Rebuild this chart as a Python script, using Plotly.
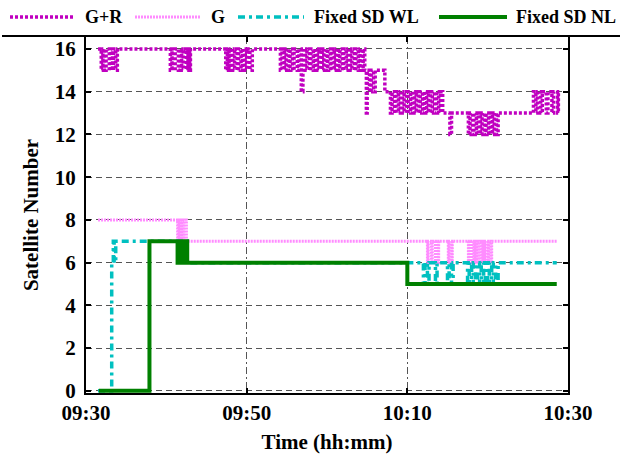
import plotly.graph_objects as go

# Time axis: minutes after 09:30
TICK_MIN = [0, 20, 40, 60]
TICK_TEXT = ["09:30", "09:50", "10:10", "10:30"]
Y_TICKS = [0, 2, 4, 6, 8, 10, 12, 14, 16]

SERIES_NAMES = ["G+R", "G", "Fixed SD WL", "Fixed SD NL"]

# G+R satellite count (step changes: minute, count)
GR_T = [1.5, 1.9, 2.1, 2.3, 2.5, 2.9, 3.1, 3.3, 3.4, 3.7, 3.9,
        10.5, 10.7, 10.9, 11.1, 11.5, 11.7, 11.9, 12.1, 12.5, 12.7, 12.9, 13.0,
        17.4, 17.6, 17.8, 18.0, 18.3, 18.5, 18.8, 19.0, 19.3, 19.5, 19.8, 20.0, 20.4, 20.7,
        24.2, 24.4, 24.7, 24.9, 25.2, 25.4, 25.7, 25.9, 26.3, 26.5, 26.8, 27.0,
        27.3, 27.5, 27.8, 28.0, 28.3, 28.5, 28.8, 29.0, 29.4, 29.6, 29.9, 30.1,
        30.4, 30.6, 30.9, 31.1, 31.4, 31.6, 31.9, 32.1, 32.4, 32.6, 32.9, 33.1,
        33.4, 33.6, 33.9, 34.1, 34.3, 34.5,
        34.7, 34.9, 35.0, 35.3, 35.5, 35.8, 36.0, 37.2,
        37.9, 38.1, 38.4, 38.6, 38.9, 39.1, 39.4, 39.6, 39.9, 40.1, 40.4, 40.6,
        40.9, 41.1, 41.4, 41.6, 41.9, 42.1, 42.4, 42.6, 42.9, 43.1, 43.4, 43.6,
        43.9, 44.1, 44.4, 44.7,
        45.3, 45.5,
        47.6, 47.8, 48.1, 48.3, 48.6, 48.8, 49.1, 49.3, 49.6, 49.8, 50.1, 50.3,
        50.6, 50.8, 51.1, 51.3,
        55.7, 56.0, 56.2, 56.6, 56.8, 57.3, 57.5, 58.0, 58.2, 58.7, 58.8]
GR_V = [16, 15, 16, 15, 16, 15, 16, 15, 16, 15, 16,
        15, 16, 15, 16, 15, 16, 15, 16, 15, 16, 15, 16,
        15, 16, 15, 16, 15, 16, 15, 16, 15, 16, 15, 16, 15, 16,
        15, 16, 15, 16, 15, 16, 15, 16, 15, 16, 14, 16,
        15, 16, 15, 16, 15, 16, 15, 16, 15, 16, 15, 16,
        15, 16, 15, 16, 15, 16, 15, 16, 15, 16, 15, 16,
        15, 16, 15, 16, 15, 16,
        15, 13, 15, 14, 15, 14, 15, 14,
        13, 14, 13, 14, 13, 14, 13, 14, 13, 14, 13, 14,
        13, 14, 13, 14, 13, 14, 13, 14, 13, 14, 13, 14,
        13, 14, 13, 13,
        12, 13,
        12, 13, 12, 13, 12, 13, 12, 13, 12, 13, 12, 13,
        12, 13, 12, 13,
        14, 13, 14, 13, 14, 13, 14, 13, 14, 13, 14]

# G satellite count
G_T = [1.5, 11.4, 11.5, 11.6, 11.8, 11.9, 12.1, 12.2, 12.4, 12.5,
       42.5, 42.6, 43.0, 43.1, 43.5, 43.6, 43.8, 43.9,
       45.1, 45.2, 45.5, 45.6,
       47.6, 47.7, 47.9, 48.0, 48.3, 48.4, 48.6, 48.7, 48.9, 49.0,
       49.3, 49.4, 49.6, 49.7, 50.0, 50.1, 50.4, 50.5, 50.7, 58.6]
G_V = [8, 7, 8, 7, 8, 7, 8, 7, 8, 7,
       6, 7, 6, 7, 6, 7, 6, 7,
       6, 7, 6, 7,
       6, 7, 6, 7, 6, 7, 6, 7, 6, 7,
       6, 7, 6, 7, 6, 7, 6, 7, 7, 7]

# Fixed SD, wide-lane satellite count
WL_T = [1.5, 3.2, 3.4, 3.5, 3.7, 12.6,
        42.0, 42.2, 42.5, 42.7, 43.5, 43.7,
        45.0, 45.2, 45.5, 45.7,
        47.5, 47.7, 48.0, 48.2, 48.5, 48.7, 49.0, 49.2, 49.5, 49.7,
        50.0, 50.2, 50.5, 50.7, 51.0, 51.3, 58.6]
WL_V = [0, 6, 7, 6, 7, 6,
        5, 6, 5, 6, 5, 6,
        5, 6, 5, 6,
        5, 6, 5, 6, 5, 6, 5, 6, 5, 6,
        5, 6, 5, 6, 5, 6, 6]

# Fixed SD, narrow-lane satellite count
NL_T = [1.6, 7.9, 11.4, 11.5, 11.6, 11.7, 11.8, 11.9, 12.0, 12.1, 12.2,
        12.3, 12.4, 12.5, 12.6, 12.7, 40.0, 58.6]
NL_V = [0, 7, 6, 7, 6, 7, 6, 7, 6, 7, 6,
        7, 6, 7, 6, 6, 5, 5]

COLORS = ["#c000c0", "#ff8cff", "#00c0c0", "#008000"]
DASHES = ["3px,2px", "2px,1px", "7px,4px,3px,4px", "solid"]
WIDTHS = [3.5, 3, 3.5, 4]

SERIF = "Liberation Serif, Times New Roman, serif"

fig = go.Figure()
data = [(GR_T, GR_V), (G_T, G_V), (WL_T, WL_V), (NL_T, NL_V)]
for (t, v), name, c, d, w in zip(data, SERIES_NAMES, COLORS, DASHES, WIDTHS):
    fig.add_trace(go.Scatter(
        x=t, y=v, name=name, mode="lines", line_shape="hv",
        line=dict(color=c, dash=d, width=w), showlegend=False,
    ))

# figure geometry (pixels)
W, H = 620, 454
ML, MR, MT, MB = 86, 52, 37, 61
PW, PH = W - ML - MR, H - MT - MB


def px_x(px):
    return (px - ML) / PW


def px_y(py):
    return (H - MB - py) / PH


shapes = []
annotations = []
# legend row across the top
leg_line_x = [(10, 75), (135, 201), (238, 304), (439, 507)]
leg_text_x = [83, 209, 312, 514]
LEG_Y = 17
for name, c, d, w, (a, b), tx in zip(SERIES_NAMES, COLORS, DASHES, WIDTHS, leg_line_x, leg_text_x):
    shapes.append(dict(type="line", xref="paper", yref="paper",
                       x0=px_x(a), x1=px_x(b), y0=px_y(LEG_Y), y1=px_y(LEG_Y),
                       line=dict(color=c, dash=d, width=w)))
    annotations.append(dict(text=name, xref="paper", yref="paper",
                            x=px_x(tx), y=px_y(LEG_Y), xanchor="left", yanchor="middle",
                            showarrow=False,
                            font=dict(family=SERIF, size=18, color="black", weight="bold")))
# rule under the legend spanning the full width
shapes.append(dict(type="line", xref="paper", yref="paper",
                   x0=px_x(2), x1=px_x(620), y0=px_y(36), y1=px_y(36),
                   line=dict(color="black", width=2)))

fig.update_layout(
    width=W, height=H,
    margin=dict(l=ML, r=MR, t=MT, b=MB, pad=0, autoexpand=False),
    paper_bgcolor="white", plot_bgcolor="white",
    shapes=shapes, annotations=annotations,
    font=dict(family=SERIF, color="black"),
)

axis_common = dict(
    showline=True, linecolor="black", linewidth=2, mirror="ticks",
    ticks="inside", ticklen=5, tickwidth=1.5, tickcolor="black",
    zeroline=False, showgrid=True, gridcolor="#555555", gridwidth=1,
    automargin=False,
    tickfont=dict(family=SERIF, size=21, color="black", weight="bold"),
)
fig.update_xaxes(
    range=[0, 60], tickvals=TICK_MIN, ticktext=TICK_TEXT,
    griddash="7px,3px,2px,3px",
    title=dict(text="Time (hh:mm)", standoff=10,
               font=dict(family=SERIF, size=21, color="black", weight="bold")),
    **axis_common,
)
fig.update_yaxes(
    range=[-0.1, 16.56], tickvals=Y_TICKS,
    griddash="6px,4px", ticklabelstandoff=4,
    title=dict(text="Satellite Number", standoff=10,
               font=dict(family=SERIF, size=21, color="black", weight="bold")),
    **axis_common,
)

fig.write_html("out.html")
